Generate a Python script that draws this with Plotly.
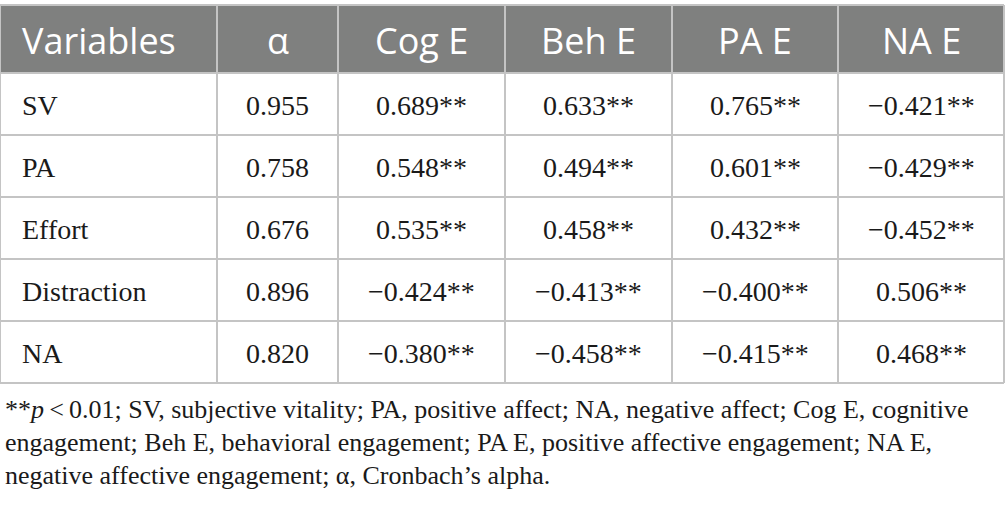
import plotly.graph_objects as go

W, H = 1005, 513

headers = ["Variables", "α", "Cog E", "Beh E", "PA E", "NA E"]
variables = ["SV", "PA", "Effort", "Distraction", "NA"]
alpha = ["0.955", "0.758", "0.676", "0.896", "0.820"]
cog_e = ["0.689**", "0.548**", "0.535**", "−0.424**", "−0.380**"]
beh_e = ["0.633**", "0.494**", "0.458**", "−0.413**", "−0.458**"]
pa_e = ["0.765**", "0.601**", "0.432**", "−0.400**", "−0.415**"]
na_e = ["−0.421**", "−0.429**", "−0.452**", "0.506**", "0.468**"]

footnote = [
    "**<i>p</i>\u2009<\u20090.01; SV, subjective vitality; PA, positive affect; NA, negative affect; Cog E, cognitive",
    "engagement; Beh E, behavioral engagement; PA E, positive affective engagement; NA E,",
    "negative affective engagement; α, Cronbach’s alpha.",
]

columns = [variables, alpha, cog_e, beh_e, pa_e, na_e]

# layout in pixels (axes run in px, y downwards)
col_widths = [217, 121, 167, 167, 166, 167]
top, head_h, row_h = 5, 68, 62
grid = "#c4c4c4"
ink = "#1a1a1a"

edges = [0]
for w in col_widths:
    edges.append(edges[-1] + w)
edges[-1] = W - 1
n_rows = len(variables)
row_edges = [top, top + head_h] + [top + head_h + row_h * (i + 1) for i in range(n_rows)]

fig = go.Figure()

# header band
fig.add_shape(type="rect", x0=0, x1=W - 1, y0=top, y1=top + head_h,
              fillcolor="#7f807f", line=dict(width=0), layer="below")

# grid lines
for x in edges:
    fig.add_shape(type="line", x0=x, x1=x, y0=top, y1=row_edges[-1],
                  line=dict(color=grid, width=2))
for y in row_edges:
    fig.add_shape(type="line", x0=0, x1=W - 1, y0=y, y1=y,
                  line=dict(color=grid, width=2))

# header text
for j, h in enumerate(headers):
    left = j == 0
    fig.add_annotation(
        text=h, x=20 if left else (edges[j] + edges[j + 1]) / 2,
        y=top + head_h / 2 + 1, xanchor="left" if left else "center",
        yanchor="middle", showarrow=False,
        font=dict(family="Open Sans", size=36, color="white"),
    )

# body text
for j, col in enumerate(columns):
    left = j == 0
    for i, v in enumerate(col):
        fig.add_annotation(
            text=v, x=20 if left else (edges[j] + edges[j + 1]) / 2,
            y=row_edges[i + 1] + row_h / 2 + 1, xanchor="left" if left else "center",
            yanchor="middle", showarrow=False,
            font=dict(family="Liberation Serif", size=28, color=ink),
        )

# footnote
for i, line in enumerate(footnote):
    fig.add_annotation(
        text=line, x=3, y=409 + 33 * i,
        xanchor="left", yanchor="middle", showarrow=False,
        font=dict(family="Liberation Serif", size=26, color=ink),
    )

fig.update_xaxes(range=[0, W], visible=False, fixedrange=True)
fig.update_yaxes(range=[H, 0], visible=False, fixedrange=True)
fig.update_layout(
    width=W, height=H,
    margin=dict(l=0, r=0, t=0, b=0),
    paper_bgcolor="white", plot_bgcolor="white",
    showlegend=False,
)

fig.write_html(
    "out.html",
    config={"displayModeBar": False},
    post_script="document.body.style.margin='0';document.body.style.overflow='hidden';",
)
